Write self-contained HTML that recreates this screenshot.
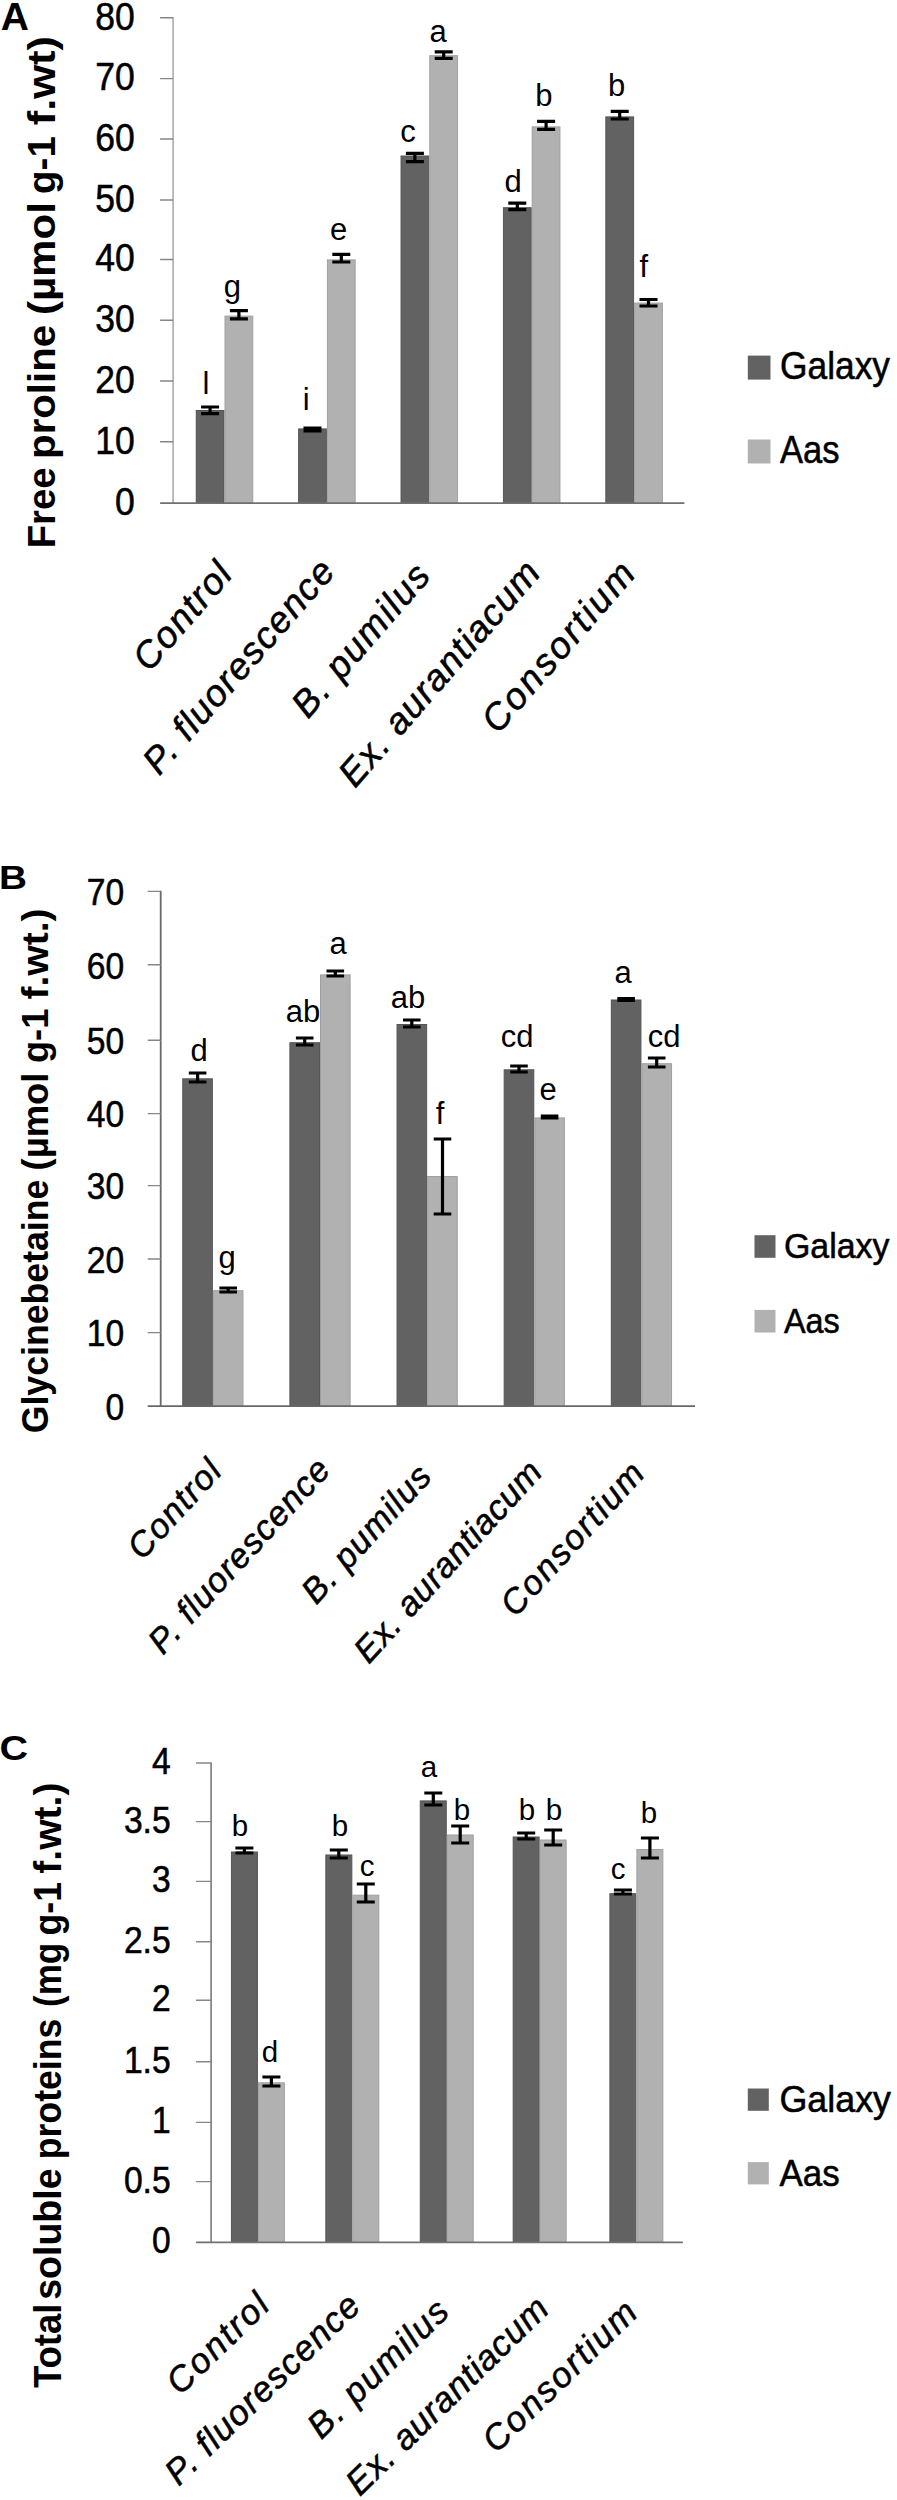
<!DOCTYPE html>
<html lang="en"><head><meta charset="utf-8"><title>Figure</title>
<style>
html,body{margin:0;padding:0;background:#fff}
svg{display:block}
text{font-family:"Liberation Sans", sans-serif;fill:#000}
.hv{stroke:#000;stroke-width:0.55px}
</style></head><body>
<svg width="897" height="2500" viewBox="0 0 897 2500">
<rect width="897" height="2500" fill="#fff"/>
<rect x="196.24" y="410.50" width="27.76" height="92.60" fill="#626262" stroke="#555555" stroke-width="1"/>
<rect x="225.00" y="316.10" width="27.76" height="187.00" fill="#b1b1b1" stroke="#a0a0a0" stroke-width="1"/>
<rect x="298.64" y="428.90" width="27.76" height="74.20" fill="#626262" stroke="#555555" stroke-width="1"/>
<rect x="327.40" y="259.90" width="27.76" height="243.20" fill="#b1b1b1" stroke="#a0a0a0" stroke-width="1"/>
<rect x="401.04" y="156.00" width="27.76" height="347.10" fill="#626262" stroke="#555555" stroke-width="1"/>
<rect x="429.80" y="55.70" width="27.76" height="447.40" fill="#b1b1b1" stroke="#a0a0a0" stroke-width="1"/>
<rect x="503.44" y="207.70" width="27.76" height="295.40" fill="#626262" stroke="#555555" stroke-width="1"/>
<rect x="532.20" y="126.90" width="27.76" height="376.20" fill="#b1b1b1" stroke="#a0a0a0" stroke-width="1"/>
<rect x="605.84" y="116.90" width="27.76" height="386.20" fill="#626262" stroke="#555555" stroke-width="1"/>
<rect x="634.60" y="303.10" width="27.76" height="200.00" fill="#b1b1b1" stroke="#a0a0a0" stroke-width="1"/>
<path d="M173.1 17.2V503.1" stroke="#a6a6a6" stroke-width="1.5" fill="none"/>
<path d="M160.1 503.1H684.4" stroke="#707070" stroke-width="1.7" fill="none"/>
<path d="M160.1 17.70H173.1M160.1 78.60H173.1M160.1 139.00H173.1M160.1 200.00H173.1M160.1 259.50H173.1M160.1 320.30H173.1M160.1 381.00H173.1M160.1 441.70H173.1" stroke="#868686" stroke-width="1.4" fill="none"/>
<text x="134.8" y="514.9" font-size="38" text-anchor="end" textLength="19.8" lengthAdjust="spacingAndGlyphs" class="hv">0</text>
<text x="134.8" y="453.5" font-size="38" text-anchor="end" textLength="39.5" lengthAdjust="spacingAndGlyphs" class="hv">10</text>
<text x="134.8" y="392.8" font-size="38" text-anchor="end" textLength="39.5" lengthAdjust="spacingAndGlyphs" class="hv">20</text>
<text x="134.8" y="332.1" font-size="38" text-anchor="end" textLength="39.5" lengthAdjust="spacingAndGlyphs" class="hv">30</text>
<text x="134.8" y="271.3" font-size="38" text-anchor="end" textLength="39.5" lengthAdjust="spacingAndGlyphs" class="hv">40</text>
<text x="134.8" y="211.8" font-size="38" text-anchor="end" textLength="39.5" lengthAdjust="spacingAndGlyphs" class="hv">50</text>
<text x="134.8" y="150.8" font-size="38" text-anchor="end" textLength="39.5" lengthAdjust="spacingAndGlyphs" class="hv">60</text>
<text x="134.8" y="90.4" font-size="38" text-anchor="end" textLength="39.5" lengthAdjust="spacingAndGlyphs" class="hv">70</text>
<text x="134.8" y="29.5" font-size="38" text-anchor="end" textLength="39.5" lengthAdjust="spacingAndGlyphs" class="hv">80</text>
<path d="M210.1 407.0V413.7M201.1 407.0h18M201.1 413.7h18" stroke="#000" stroke-width="3.2" fill="none"/>
<text x="206.0" y="394.0" font-size="31" text-anchor="middle">l</text>
<path d="M238.9 310.7V318.8M229.9 310.7h18M229.9 318.8h18" stroke="#000" stroke-width="3.2" fill="none"/>
<text x="232.3" y="296.8" font-size="31" text-anchor="middle">g</text>
<path d="M312.5 428.0V431.0M303.5 428.0h18M303.5 431.0h18" stroke="#000" stroke-width="3.2" fill="none"/>
<text x="306.2" y="410.0" font-size="31" text-anchor="middle">i</text>
<path d="M341.3 254.4V262.0M332.3 254.4h18M332.3 262.0h18" stroke="#000" stroke-width="3.2" fill="none"/>
<text x="338.7" y="239.8" font-size="31" text-anchor="middle">e</text>
<path d="M414.9 153.3V161.6M405.9 153.3h18M405.9 161.6h18" stroke="#000" stroke-width="3.2" fill="none"/>
<text x="408.0" y="141.5" font-size="31" text-anchor="middle">c</text>
<path d="M443.7 51.9V58.4M434.7 51.9h18M434.7 58.4h18" stroke="#000" stroke-width="3.2" fill="none"/>
<text x="438.0" y="42.0" font-size="31" text-anchor="middle">a</text>
<path d="M517.3 203.2V209.7M508.3 203.2h18M508.3 209.7h18" stroke="#000" stroke-width="3.2" fill="none"/>
<text x="513.2" y="191.7" font-size="31" text-anchor="middle">d</text>
<path d="M546.1 121.4V129.3M537.1 121.4h18M537.1 129.3h18" stroke="#000" stroke-width="3.2" fill="none"/>
<text x="543.9" y="105.8" font-size="31" text-anchor="middle">b</text>
<path d="M619.7 111.4V119.0M610.7 111.4h18M610.7 119.0h18" stroke="#000" stroke-width="3.2" fill="none"/>
<text x="616.6" y="96.3" font-size="31" text-anchor="middle">b</text>
<path d="M648.5 299.5V306.0M639.5 299.5h18M639.5 306.0h18" stroke="#000" stroke-width="3.2" fill="none"/>
<text x="643.8" y="277.0" font-size="31" text-anchor="middle">f</text>
<text x="234.0" y="575.5" font-size="37" text-anchor="end" font-style="italic" textLength="129.2" lengthAdjust="spacing" transform="rotate(-49 234.0 575.5)" class="hv">Control</text>
<text x="336.4" y="572.7" font-size="37" text-anchor="end" font-style="italic" textLength="270.0" lengthAdjust="spacing" transform="rotate(-49 336.4 572.7)" class="hv">P. fluorescence</text>
<text x="432.0" y="577.0" font-size="37" text-anchor="end" font-style="italic" textLength="189.0" lengthAdjust="spacing" transform="rotate(-49 432.0 577.0)" class="hv">B. pumilus</text>
<text x="542.0" y="574.0" font-size="37" text-anchor="end" font-style="italic" textLength="285.0" lengthAdjust="spacing" transform="rotate(-49 542.0 574.0)" class="hv">Ex. aurantiacum</text>
<text x="637.0" y="575.0" font-size="37" text-anchor="end" font-style="italic" textLength="212.0" lengthAdjust="spacing" transform="rotate(-49 637.0 575.0)" class="hv">Consortium</text>
<text transform="translate(54.6 548.3) rotate(-90)" y="0" font-size="38" font-weight="bold"><tspan x="0.0" textLength="80.7" lengthAdjust="spacingAndGlyphs">Free</tspan> <tspan x="89.4" textLength="134.0" lengthAdjust="spacingAndGlyphs">proline</tspan> <tspan x="233.2" textLength="113.0" lengthAdjust="spacingAndGlyphs">(µmol</tspan> <tspan x="354.4" textLength="57.7" lengthAdjust="spacingAndGlyphs">g-1</tspan> <tspan x="423.0" textLength="89.4" lengthAdjust="spacingAndGlyphs">f.wt)</tspan></text>
<text x="0.8" y="30.3" font-size="39" text-anchor="start" font-weight="bold">A</text>
<rect x="747.8" y="355.6" width="22.7" height="24" fill="#626262"/>
<rect x="747.8" y="439.5" width="22.7" height="24" fill="#b1b1b1"/>
<text x="780.0" y="378.6" font-size="38.3" text-anchor="start" textLength="110.0" lengthAdjust="spacingAndGlyphs" class="hv">Galaxy</text>
<text x="780.0" y="463.3" font-size="38.3" text-anchor="start" textLength="59.5" lengthAdjust="spacingAndGlyphs" class="hv">Aas</text>
<rect x="182.76" y="1078.80" width="29.61" height="327.30" fill="#626262" stroke="#555555" stroke-width="1"/>
<rect x="213.37" y="1290.70" width="29.61" height="115.40" fill="#b1b1b1" stroke="#a0a0a0" stroke-width="1"/>
<rect x="289.90" y="1042.70" width="29.61" height="363.40" fill="#626262" stroke="#555555" stroke-width="1"/>
<rect x="320.51" y="974.90" width="29.61" height="431.20" fill="#b1b1b1" stroke="#a0a0a0" stroke-width="1"/>
<rect x="397.04" y="1024.50" width="29.61" height="381.60" fill="#626262" stroke="#555555" stroke-width="1"/>
<rect x="427.65" y="1176.50" width="29.61" height="229.60" fill="#b1b1b1" stroke="#a0a0a0" stroke-width="1"/>
<rect x="504.18" y="1069.80" width="29.61" height="336.30" fill="#626262" stroke="#555555" stroke-width="1"/>
<rect x="534.79" y="1117.90" width="29.61" height="288.20" fill="#b1b1b1" stroke="#a0a0a0" stroke-width="1"/>
<rect x="611.32" y="1000.00" width="29.61" height="406.10" fill="#626262" stroke="#555555" stroke-width="1"/>
<rect x="641.93" y="1063.70" width="29.61" height="342.40" fill="#b1b1b1" stroke="#a0a0a0" stroke-width="1"/>
<path d="M160.7 890.7V1406.1" stroke="#686868" stroke-width="1.8" fill="none"/>
<path d="M147.7 1406.1H695" stroke="#686868" stroke-width="1.9" fill="none"/>
<path d="M147.7 891.40H160.7M147.7 964.80H160.7M147.7 1040.20H160.7M147.7 1113.60H160.7M147.7 1185.60H160.7M147.7 1259.00H160.7M147.7 1332.60H160.7" stroke="#868686" stroke-width="1.4" fill="none"/>
<text x="124.2" y="1419.9" font-size="36" text-anchor="end" textLength="18.7" lengthAdjust="spacingAndGlyphs" class="hv">0</text>
<text x="124.2" y="1346.4" font-size="36" text-anchor="end" textLength="37.4" lengthAdjust="spacingAndGlyphs" class="hv">10</text>
<text x="124.2" y="1272.8" font-size="36" text-anchor="end" textLength="37.4" lengthAdjust="spacingAndGlyphs" class="hv">20</text>
<text x="124.2" y="1199.4" font-size="36" text-anchor="end" textLength="37.4" lengthAdjust="spacingAndGlyphs" class="hv">30</text>
<text x="124.2" y="1127.4" font-size="36" text-anchor="end" textLength="37.4" lengthAdjust="spacingAndGlyphs" class="hv">40</text>
<text x="124.2" y="1054.0" font-size="36" text-anchor="end" textLength="37.4" lengthAdjust="spacingAndGlyphs" class="hv">50</text>
<text x="124.2" y="978.6" font-size="36" text-anchor="end" textLength="37.4" lengthAdjust="spacingAndGlyphs" class="hv">60</text>
<text x="124.2" y="905.2" font-size="36" text-anchor="end" textLength="37.4" lengthAdjust="spacingAndGlyphs" class="hv">70</text>
<path d="M197.6 1073.0V1082.0M188.8 1073.0h17.6M188.8 1082.0h17.6" stroke="#000" stroke-width="3.2" fill="none"/>
<text x="199.0" y="1061.0" font-size="31" text-anchor="middle">d</text>
<path d="M228.2 1288.0V1292.0M219.4 1288.0h17.6M219.4 1292.0h17.6" stroke="#000" stroke-width="3.2" fill="none"/>
<text x="227.0" y="1268.0" font-size="31" text-anchor="middle">g</text>
<path d="M304.7 1038.0V1045.0M295.9 1038.0h17.6M295.9 1045.0h17.6" stroke="#000" stroke-width="3.2" fill="none"/>
<text x="303.0" y="1022.0" font-size="31" text-anchor="middle">ab</text>
<path d="M335.3 971.0V976.0M326.5 971.0h17.6M326.5 976.0h17.6" stroke="#000" stroke-width="3.2" fill="none"/>
<text x="338.0" y="954.0" font-size="31" text-anchor="middle">a</text>
<path d="M411.8 1020.0V1027.0M403.0 1020.0h17.6M403.0 1027.0h17.6" stroke="#000" stroke-width="3.2" fill="none"/>
<text x="408.0" y="1008.0" font-size="31" text-anchor="middle">ab</text>
<path d="M442.5 1139.0V1214.0M433.7 1139.0h17.6M433.7 1214.0h17.6" stroke="#000" stroke-width="3.2" fill="none"/>
<text x="440.0" y="1124.0" font-size="31" text-anchor="middle">f</text>
<path d="M519.0 1066.0V1072.0M510.2 1066.0h17.6M510.2 1072.0h17.6" stroke="#000" stroke-width="3.2" fill="none"/>
<text x="517.0" y="1047.0" font-size="31" text-anchor="middle">cd</text>
<path d="M549.6 1116.0V1118.0M540.8 1116.0h17.6M540.8 1118.0h17.6" stroke="#000" stroke-width="3.2" fill="none"/>
<text x="548.0" y="1100.0" font-size="31" text-anchor="middle">e</text>
<path d="M626.1 998.5V1000.5M617.3 998.5h17.6M617.3 1000.5h17.6" stroke="#000" stroke-width="3.2" fill="none"/>
<text x="623.0" y="983.0" font-size="31" text-anchor="middle">a</text>
<path d="M656.7 1058.0V1067.0M647.9 1058.0h17.6M647.9 1067.0h17.6" stroke="#000" stroke-width="3.2" fill="none"/>
<text x="664.0" y="1047.0" font-size="31" text-anchor="middle">cd</text>
<text x="223.4" y="1472.7" font-size="34.5" text-anchor="end" font-style="italic" textLength="120.0" lengthAdjust="spacing" transform="rotate(-47.5 223.4 1472.7)" class="hv">Control</text>
<text x="332.0" y="1471.4" font-size="34.5" text-anchor="end" font-style="italic" textLength="250.0" lengthAdjust="spacing" transform="rotate(-47.5 332.0 1471.4)" class="hv">P. fluorescence</text>
<text x="433.2" y="1478.0" font-size="34.5" text-anchor="end" font-style="italic" textLength="173.0" lengthAdjust="spacing" transform="rotate(-47.5 433.2 1478.0)" class="hv">B. pumilus</text>
<text x="544.0" y="1473.5" font-size="34.5" text-anchor="end" font-style="italic" textLength="259.5" lengthAdjust="spacing" transform="rotate(-47.5 544.0 1473.5)" class="hv">Ex. aurantiacum</text>
<text x="646.3" y="1475.1" font-size="34.5" text-anchor="end" font-style="italic" textLength="194.0" lengthAdjust="spacing" transform="rotate(-47.5 646.3 1475.1)" class="hv">Consortium</text>
<text transform="translate(47.9 1433.3) rotate(-90)" y="0" font-size="36" font-weight="bold"><tspan x="0.0" textLength="253.7" lengthAdjust="spacingAndGlyphs">Glycinebetaine</tspan> <tspan x="262.9" textLength="97.9" lengthAdjust="spacingAndGlyphs">(µmol</tspan> <tspan x="370.3" textLength="54.3" lengthAdjust="spacingAndGlyphs">g-1</tspan> <tspan x="433.8" textLength="91.1" lengthAdjust="spacingAndGlyphs">f.wt.)</tspan></text>
<text x="-1.0" y="888.7" font-size="33.5" text-anchor="start" font-weight="bold" textLength="28.0" lengthAdjust="spacingAndGlyphs">B</text>
<rect x="754.5" y="1235.2" width="21" height="22.6" fill="#626262"/>
<rect x="754.5" y="1309.9" width="21" height="22.6" fill="#b1b1b1"/>
<text x="784.0" y="1257.9" font-size="35.8" text-anchor="start" textLength="105.5" lengthAdjust="spacingAndGlyphs" class="hv">Galaxy</text>
<text x="784.0" y="1332.6" font-size="35.8" text-anchor="start" textLength="55.8" lengthAdjust="spacingAndGlyphs" class="hv">Aas</text>
<rect x="231.43" y="1852.00" width="25.98" height="390.40" fill="#626262" stroke="#555555" stroke-width="1"/>
<rect x="258.41" y="2082.80" width="25.98" height="159.60" fill="#b1b1b1" stroke="#a0a0a0" stroke-width="1"/>
<rect x="325.85" y="1855.00" width="25.98" height="387.40" fill="#626262" stroke="#555555" stroke-width="1"/>
<rect x="352.83" y="1895.20" width="25.98" height="347.20" fill="#b1b1b1" stroke="#a0a0a0" stroke-width="1"/>
<rect x="420.27" y="1800.90" width="25.98" height="441.50" fill="#626262" stroke="#555555" stroke-width="1"/>
<rect x="447.25" y="1835.00" width="25.98" height="407.40" fill="#b1b1b1" stroke="#a0a0a0" stroke-width="1"/>
<rect x="513.19" y="1837.00" width="25.98" height="405.40" fill="#626262" stroke="#555555" stroke-width="1"/>
<rect x="540.17" y="1840.00" width="25.98" height="402.40" fill="#b1b1b1" stroke="#a0a0a0" stroke-width="1"/>
<rect x="609.91" y="1893.70" width="25.98" height="348.70" fill="#626262" stroke="#555555" stroke-width="1"/>
<rect x="636.89" y="1849.50" width="25.98" height="392.90" fill="#b1b1b1" stroke="#a0a0a0" stroke-width="1"/>
<path d="M211.1 1762.5V2242.4" stroke="#707070" stroke-width="1.5" fill="none"/>
<path d="M196.1 2242.4H682.8" stroke="#707070" stroke-width="1.7" fill="none"/>
<path d="M196.1 1763.00H211.1M196.1 1821.60H211.1M196.1 1881.40H211.1M196.1 1941.70H211.1M196.1 2000.30H211.1M196.1 2061.80H211.1M196.1 2122.40H211.1M196.1 2181.60H211.1" stroke="#868686" stroke-width="1.4" fill="none"/>
<text x="170.7" y="2253.3" font-size="36" text-anchor="end" textLength="18.7" lengthAdjust="spacingAndGlyphs" class="hv">0</text>
<text x="170.7" y="2192.6" font-size="36" text-anchor="end" textLength="46.8" lengthAdjust="spacingAndGlyphs" class="hv">0.5</text>
<text x="170.7" y="2133.4" font-size="36" text-anchor="end" textLength="18.7" lengthAdjust="spacingAndGlyphs" class="hv">1</text>
<text x="170.7" y="2072.8" font-size="36" text-anchor="end" textLength="46.8" lengthAdjust="spacingAndGlyphs" class="hv">1.5</text>
<text x="170.7" y="2011.3" font-size="36" text-anchor="end" textLength="18.7" lengthAdjust="spacingAndGlyphs" class="hv">2</text>
<text x="170.7" y="1952.7" font-size="36" text-anchor="end" textLength="46.8" lengthAdjust="spacingAndGlyphs" class="hv">2.5</text>
<text x="170.7" y="1892.4" font-size="36" text-anchor="end" textLength="18.7" lengthAdjust="spacingAndGlyphs" class="hv">3</text>
<text x="170.7" y="1832.6" font-size="36" text-anchor="end" textLength="46.8" lengthAdjust="spacingAndGlyphs" class="hv">3.5</text>
<text x="170.7" y="1774.0" font-size="36" text-anchor="end" textLength="18.7" lengthAdjust="spacingAndGlyphs" class="hv">4</text>
<path d="M244.4 1848.0V1853.0M235.4 1848.0h18M235.4 1853.0h18" stroke="#000" stroke-width="3.2" fill="none"/>
<text x="240.0" y="1836.0" font-size="29.5" text-anchor="middle">b</text>
<path d="M271.4 2077.0V2086.0M262.4 2077.0h18M262.4 2086.0h18" stroke="#000" stroke-width="3.2" fill="none"/>
<text x="270.0" y="2062.0" font-size="29.5" text-anchor="middle">d</text>
<path d="M338.8 1850.0V1858.0M329.8 1850.0h18M329.8 1858.0h18" stroke="#000" stroke-width="3.2" fill="none"/>
<text x="340.0" y="1836.0" font-size="29.5" text-anchor="middle">b</text>
<path d="M365.8 1884.0V1902.0M356.8 1884.0h18M356.8 1902.0h18" stroke="#000" stroke-width="3.2" fill="none"/>
<text x="367.0" y="1876.0" font-size="29.5" text-anchor="middle">c</text>
<path d="M433.3 1793.0V1805.0M424.3 1793.0h18M424.3 1805.0h18" stroke="#000" stroke-width="3.2" fill="none"/>
<text x="429.0" y="1777.0" font-size="29.5" text-anchor="middle">a</text>
<path d="M460.2 1826.0V1843.0M451.2 1826.0h18M451.2 1843.0h18" stroke="#000" stroke-width="3.2" fill="none"/>
<text x="462.0" y="1820.0" font-size="29.5" text-anchor="middle">b</text>
<path d="M526.2 1833.0V1839.0M517.2 1833.0h18M517.2 1839.0h18" stroke="#000" stroke-width="3.2" fill="none"/>
<text x="527.0" y="1820.0" font-size="29.5" text-anchor="middle">b</text>
<path d="M553.2 1830.0V1845.0M544.2 1830.0h18M544.2 1845.0h18" stroke="#000" stroke-width="3.2" fill="none"/>
<text x="554.0" y="1820.0" font-size="29.5" text-anchor="middle">b</text>
<path d="M622.9 1890.0V1894.0M613.9 1890.0h18M613.9 1894.0h18" stroke="#000" stroke-width="3.2" fill="none"/>
<text x="618.0" y="1879.0" font-size="29.5" text-anchor="middle">c</text>
<path d="M649.9 1838.0V1858.0M640.9 1838.0h18M640.9 1858.0h18" stroke="#000" stroke-width="3.2" fill="none"/>
<text x="649.0" y="1823.0" font-size="29.5" text-anchor="middle">b</text>
<text x="271.4" y="2307.6" font-size="35.3" text-anchor="end" font-style="italic" textLength="127.0" lengthAdjust="spacing" transform="rotate(-44.2 271.4 2307.6)" class="hv">Control</text>
<text x="362.3" y="2308.4" font-size="35.3" text-anchor="end" font-style="italic" textLength="256.0" lengthAdjust="spacing" transform="rotate(-44.2 362.3 2308.4)" class="hv">P. fluorescence</text>
<text x="451.0" y="2314.0" font-size="35.3" text-anchor="end" font-style="italic" textLength="181.0" lengthAdjust="spacing" transform="rotate(-44.2 451.0 2314.0)" class="hv">B. pumilus</text>
<text x="550.8" y="2311.3" font-size="35.3" text-anchor="end" font-style="italic" textLength="266.5" lengthAdjust="spacing" transform="rotate(-44.2 550.8 2311.3)" class="hv">Ex. aurantiacum</text>
<text x="639.4" y="2315.1" font-size="35.3" text-anchor="end" font-style="italic" textLength="199.6" lengthAdjust="spacing" transform="rotate(-44.2 639.4 2315.1)" class="hv">Consortium</text>
<text transform="translate(61.3 2388.1) rotate(-90)" y="0" font-size="38" font-weight="bold"><tspan x="0.0" textLength="84.5" lengthAdjust="spacingAndGlyphs">Total</tspan> <tspan x="88.3" textLength="131.3" lengthAdjust="spacingAndGlyphs">soluble</tspan> <tspan x="228.8" textLength="140.7" lengthAdjust="spacingAndGlyphs">proteins</tspan> <tspan x="381.2" textLength="64.1" lengthAdjust="spacingAndGlyphs">(mg</tspan> <tspan x="452.6" textLength="53.5" lengthAdjust="spacingAndGlyphs">g-1</tspan> <tspan x="514.4" textLength="91.2" lengthAdjust="spacingAndGlyphs">f.wt.)</tspan></text>
<text x="-0.5" y="1760.0" font-size="35.5" text-anchor="start" font-weight="bold" textLength="28.6" lengthAdjust="spacingAndGlyphs">C</text>
<rect x="747.8" y="2088.5" width="21" height="22.3" fill="#626262"/>
<rect x="747.8" y="2162.1" width="21" height="22.3" fill="#b1b1b1"/>
<text x="779.5" y="2112.4" font-size="36.4" text-anchor="start" textLength="111.5" lengthAdjust="spacingAndGlyphs" class="hv">Galaxy</text>
<text x="779.5" y="2186.0" font-size="36.4" text-anchor="start" textLength="60.2" lengthAdjust="spacingAndGlyphs" class="hv">Aas</text>
</svg>
</body></html>
